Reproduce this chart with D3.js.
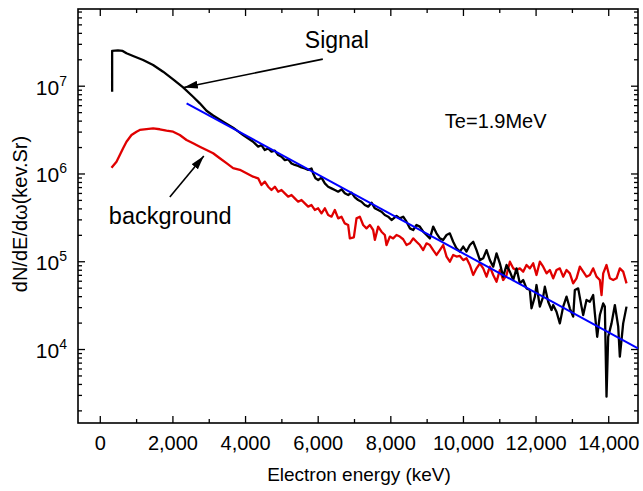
<!DOCTYPE html>
<html>
<head>
<meta charset="utf-8">
<script src="https://cdn.jsdelivr.net/npm/d3@7"></script>
<style>
  body { margin: 0; background: #fff; }
  text { font-family: "Liberation Sans", Arial, sans-serif; fill: #000; }
</style>
</head>
<body>
<div id="chart"></div>
<script>
// signal spectrum (black)
const signalE = [340, 340, 500, 630, 735, 917, 1192, 1468, 1743, 2019, 2294, 2569, 2754, 2939, 3121, 3396, 3671, 3946, 4222,
  4361, 4452, 4544, 4636, 4728, 4820, 4911, 5003, 5095, 5187, 5279, 5370, 5462, 5554, 5646, 5738, 5829, 5875, 5939, 6013,
  6105, 6197, 6288, 6380, 6472, 6564, 6656, 6747, 6839, 6931, 7023, 7115, 7206, 7298, 7390, 7482, 7574, 7665, 7757, 7849,
  7941, 8033, 8124,
  8171, 8262, 8354, 8446, 8538, 8630, 8721, 8813, 8905, 8997, 9089, 9180, 9272, 9364, 9456, 9548, 9639, 9731, 9823, 9915,
  10007, 10098, 10190, 10282, 10374, 10466, 10557, 10649, 10741, 10833, 10925, 11016, 11108, 11200, 11292, 11384, 11475,
  11566, 11658, 11750, 11842, 11888, 11980, 12025, 12117, 12209, 12255, 12347, 12439, 12485, 12576, 12668, 12760, 12852,
  12943, 13035, 13081, 13173, 13265, 13311, 13402, 13494, 13586, 13632, 13696, 13770, 13862, 13907, 13953, 13999, 14091,
  14183, 14275, 14320, 14412, 14504];
const signalN = [8.55e6, 2.49e7, 2.52e7, 2.49e7, 2.34e7, 2.18e7, 1.96e7, 1.72e7, 1.444e7, 1.183e7, 9.59e6, 7.49e6, 6.30e6,
  5.19e6, 4.58e6, 3.89e6, 3.33e6, 2.74e6, 2.30e6,
  2.02e6, 2.11e6, 1.85e6, 1.93e6, 1.77e6, 1.82e6, 1.62e6, 1.55e6, 1.42e6, 1.45e6, 1.30e6, 1.25e6, 1.22e6, 1.17e6, 1.14e6,
  1.10e6, 1.14e6, 1.00e6, 8.80e5, 8.43e5, 8.96e5, 7.72e5, 7.07e5, 6.77e5, 6.48e5, 6.20e5, 6.60e5, 5.94e5, 5.69e5, 6.04e5,
  5.35e5, 4.99e5, 4.77e5, 4.37e5, 4.19e5, 4.65e5, 4.01e5, 3.84e5, 3.67e5, 3.36e5, 3.22e5, 2.95e5, 3.17e5,
  3.28e5, 3.08e5, 3.22e5, 2.82e5, 2.37e5, 2.27e5, 2.59e5, 2.48e5, 2.17e5, 1.99e5, 1.82e5, 2.48e5, 2.08e5, 1.82e5, 1.75e5,
  1.99e5, 2.08e5, 1.67e5, 1.40e5, 1.29e5, 1.47e5, 1.29e5, 1.53e5, 1.67e5, 1.34e5, 1.03e5, 1.08e5, 1.34e5, 1.03e5, 8.68e4,
  1.23e5, 9.47e4, 6.67e4, 9.07e4, 7.61e4, 6.11e4, 8.30e4,
  5.60e4, 6.11e4, 4.91e4, 4.70e4, 2.91e4, 3.95e4, 5.36e4, 3.04e4, 3.95e4, 5.13e4, 3.46e4, 2.78e4, 3.17e4, 2.66e4, 1.96e4,
  3.04e4, 3.95e4, 2.91e4, 2.34e4, 4.70e4, 4.91e4, 3.04e4, 2.44e4, 3.62e4, 3.46e4, 4.12e4, 2.55e4, 1.38e4, 2.44e4, 3.31e4,
  3.04e4, 2.87e3, 1.38e4, 1.96e4, 3.17e4, 1.80e4, 8.18e3, 1.96e4, 3.04e4];

// background spectrum (red)
const backgroundE = [322, 460, 551, 642, 735, 873, 1011, 1102, 1286, 1468, 1652, 1837, 2019, 2203, 2388, 2569, 2754, 2939,
  3121, 3305, 3489, 3671, 3856, 4040, 4222,
  4361, 4452, 4544, 4636, 4728, 4820, 4911, 5003, 5095, 5187, 5279, 5370, 5462, 5554, 5646, 5738, 5829, 5921, 6013, 6105,
  6197, 6288, 6380, 6472, 6564, 6656, 6747, 6839, 6885, 6995, 7069, 7160, 7252, 7344, 7436, 7528, 7574, 7665, 7757, 7849,
  7895, 7987, 8079, 8170,
  8262, 8354, 8446, 8538, 8630, 8721, 8813, 8905, 8997, 9089, 9180, 9272, 9364, 9456, 9548, 9639, 9731, 9823, 9915, 10007,
  10098, 10190, 10282, 10374, 10466, 10557, 10649, 10741, 10833, 10925, 11016, 11108, 11200, 11292, 11384, 11475,
  11566, 11658, 11750, 11842, 11934, 12025, 12117, 12209, 12301, 12393, 12485, 12576, 12668, 12760, 12852, 12943, 13035,
  13127, 13219, 13311, 13402, 13494, 13586, 13678, 13770, 13816, 13862, 13953, 14045, 14137, 14229, 14320, 14412, 14504];
const backgroundN = [1.16e6, 1.36e6, 1.62e6, 1.94e6, 2.30e6, 2.74e6, 2.99e6, 3.13e6, 3.21e6, 3.27e6, 3.19e6, 3.07e6, 2.99e6,
  2.74e6, 2.41e6, 2.21e6, 2.02e6, 1.85e6, 1.70e6, 1.49e6, 1.31e6, 1.15e6, 1.10e6, 1.005e6, 9.19e5,
  8.80e5, 7.39e5, 8.07e5, 7.07e5, 6.48e5, 7.07e5, 6.20e5, 6.48e5, 5.94e5, 5.44e5, 5.69e5, 5.21e5, 4.77e5, 4.99e5, 4.57e5,
  4.19e5, 4.37e5, 3.84e5, 4.01e5, 3.52e5, 4.01e5, 3.36e5, 3.22e5, 3.84e5, 3.08e5, 3.22e5, 2.70e5, 2.59e5, 1.82e5, 1.87e5,
  3.08e5, 3.22e5, 2.59e5, 2.37e5, 2.59e5, 2.27e5, 1.75e5, 2.48e5, 2.17e5, 1.99e5, 1.53e5, 1.91e5, 1.82e5, 1.99e5,
  1.91e5, 1.78e5, 1.53e5, 1.60e5, 1.82e5, 1.67e5, 1.53e5, 1.34e5, 1.60e5, 1.53e5, 1.34e5, 1.18e5, 1.34e5, 1.53e5, 1.13e5,
  9.89e4, 1.18e5, 1.13e5, 1.15e5, 1.03e5, 1.08e5, 9.07e4, 6.97e4, 8.30e4, 9.47e4, 8.30e4, 6.67e4, 8.68e4, 6.97e4, 5.85e4,
  7.95e4, 6.11e4, 6.97e4, 9.89e4, 8.30e4, 7.95e4,
  8.30e4, 7.61e4, 9.07e4, 8.30e4, 9.47e4, 6.97e4, 9.89e4, 8.68e4, 7.28e4, 7.95e4, 6.39e4, 7.95e4, 8.30e4, 6.67e4, 7.95e4,
  7.28e4, 5.60e4, 6.39e4, 8.68e4, 7.61e4, 6.67e4, 6.97e4, 8.30e4, 6.67e4, 6.11e4, 4.12e4, 7.28e4, 9.07e4, 6.39e4, 6.11e4,
  6.39e4, 8.30e4, 7.61e4, 5.60e4];

// exponential fit (blue), Te = 1.9 MeV, end points
const fitE = [2390, 14820];
const fitN = [6.3e6, 1.02e4];

const xTicks = [0, 2000, 4000, 6000, 8000, 10000, 12000, 14000];
const yTicks = [1e4, 1e5, 1e6, 1e7];

const width = 643, height = 491;

const x = d3.scaleLinear().domain([-600, 14820]).range([78, 638]);
const y = d3.scaleLog().domain([1.436e3, 7.48e7]).range([423, 9]);

const L = x.range()[0], R = x.range()[1], T = y.range()[1], B = y.range()[0];

const svg = d3.select("#chart").append("svg")
    .attr("width", width)
    .attr("height", height);

svg.append("defs").append("clipPath")
    .attr("id", "plot-clip")
  .append("rect")
    .attr("x", L).attr("y", T)
    .attr("width", R - L).attr("height", B - T);

const marker = svg.select("defs").append("marker")
    .attr("id", "arrow")
    .attr("markerUnits", "userSpaceOnUse")
    .attr("viewBox", "0 0 14 8")
    .attr("refX", 14).attr("refY", 4)
    .attr("markerWidth", 14).attr("markerHeight", 8)
    .attr("orient", "auto");
marker.append("path").attr("d", "M0,0L14,4L0,8Z").attr("fill", "#000");

// minor tick values
const xMinor = d3.range(1000, 14001, 2000);
const yMinor = [];
for (let k = 3; k <= 7; k++) {
  for (let m = 2; m <= 9; m++) {
    const v = m * Math.pow(10, k);
    if (v > y.domain()[0] && v < y.domain()[1]) yMinor.push(v);
  }
}

function styleAxis(g) {
  g.select(".domain").remove();
  g.selectAll(".tick line").attr("stroke", "#000").attr("stroke-width", 1.3);
  g.attr("font-family", null).attr("font-size", null);
}

// bottom
svg.append("g")
    .attr("transform", `translate(0,${B})`)
    .call(d3.axisBottom(x).tickValues(xTicks).tickSize(-7).tickPadding(13).tickFormat(d3.format(",")))
    .call(styleAxis)
    .selectAll("text").style("font-size", "20px");
svg.append("g")
    .attr("transform", `translate(0,${B})`)
    .call(d3.axisBottom(x).tickValues(xMinor).tickSize(-4).tickFormat(""))
    .call(styleAxis);

// top
svg.append("g")
    .attr("transform", `translate(0,${T})`)
    .call(d3.axisTop(x).tickValues(xTicks).tickSize(-7).tickFormat(""))
    .call(styleAxis);
svg.append("g")
    .attr("transform", `translate(0,${T})`)
    .call(d3.axisTop(x).tickValues(xMinor).tickSize(-4).tickFormat(""))
    .call(styleAxis);

// left
svg.append("g")
    .attr("transform", `translate(${L},0)`)
    .call(d3.axisLeft(y).tickValues(yTicks).tickSize(-7).tickFormat(""))
    .call(styleAxis);
svg.append("g")
    .attr("transform", `translate(${L},0)`)
    .call(d3.axisLeft(y).tickValues(yMinor).tickSize(-4).tickFormat(""))
    .call(styleAxis);

// right
svg.append("g")
    .attr("transform", `translate(${R},0)`)
    .call(d3.axisRight(y).tickValues(yTicks).tickSize(-7).tickFormat(""))
    .call(styleAxis);
svg.append("g")
    .attr("transform", `translate(${R},0)`)
    .call(d3.axisRight(y).tickValues(yMinor).tickSize(-4).tickFormat(""))
    .call(styleAxis);

// y tick labels as 10^n
const yLab = svg.append("g").selectAll("text")
    .data(yTicks)
  .enter().append("text")
    .attr("x", L - 11)
    .attr("y", d => y(d) + 9)
    .attr("text-anchor", "end")
    .style("font-size", "21px");
yLab.append("tspan").text("10");
yLab.append("tspan")
    .attr("dy", -9)
    .style("font-size", "14px")
    .text(d => Math.round(Math.log10(d)));

// frame
svg.append("rect")
    .attr("x", L).attr("y", T)
    .attr("width", R - L).attr("height", B - T)
    .attr("fill", "none")
    .attr("stroke", "#000")
    .attr("stroke-width", 1.6);

const line = d3.line()
    .x(d => x(d[0]))
    .y(d => y(d[1]));

const plot = svg.append("g").attr("clip-path", "url(#plot-clip)");

plot.append("path")
    .datum(d3.zip(backgroundE, backgroundN))
    .attr("d", line)
    .attr("fill", "none")
    .attr("stroke", "#e00000")
    .attr("stroke-width", 2.3)
    .attr("stroke-linejoin", "round");

plot.append("path")
    .datum(d3.zip(signalE, signalN))
    .attr("d", line)
    .attr("fill", "none")
    .attr("stroke", "#000")
    .attr("stroke-width", 2.3)
    .attr("stroke-linejoin", "round");

plot.append("path")
    .datum(d3.zip(fitE, fitN))
    .attr("d", line)
    .attr("fill", "none")
    .attr("stroke", "#0000ff")
    .attr("stroke-width", 2);

// annotations
svg.append("line")
    .attr("x1", x(6141)).attr("y1", y(2.01e7))
    .attr("x2", x(2313)).attr("y2", y(9.54e6))
    .attr("stroke", "#000").attr("stroke-width", 1.6)
    .attr("marker-end", "url(#arrow)");
svg.append("line")
    .attr("x1", x(1928)).attr("y1", y(5.40e5))
    .attr("x2", x(2864)).attr("y2", y(1.58e6))
    .attr("stroke", "#000").attr("stroke-width", 1.6)
    .attr("marker-end", "url(#arrow)");

svg.append("text")
    .attr("x", x(5646)).attr("y", y(2.69e7))
    .style("font-size", "23px")
    .text("Signal");
svg.append("text")
    .attr("x", x(250)).attr("y", y(2.66e5))
    .style("font-size", "23.5px")
    .text("background");
svg.append("text")
    .attr("x", x(9501)).attr("y", y(3.30e6))
    .style("font-size", "20px")
    .text("Te=1.9MeV");

// axis titles
svg.append("text")
    .attr("x", (L + R) / 2 + 1)
    .attr("y", 481)
    .attr("text-anchor", "middle")
    .style("font-size", "19px")
    .text("Electron energy (keV)");

svg.append("text")
    .attr("transform", "translate(27,214) rotate(-90)")
    .attr("text-anchor", "middle")
    .style("font-size", "20px")
    .text("dN/dE/dω(kev.Sr)");
</script>
</body>
</html>
